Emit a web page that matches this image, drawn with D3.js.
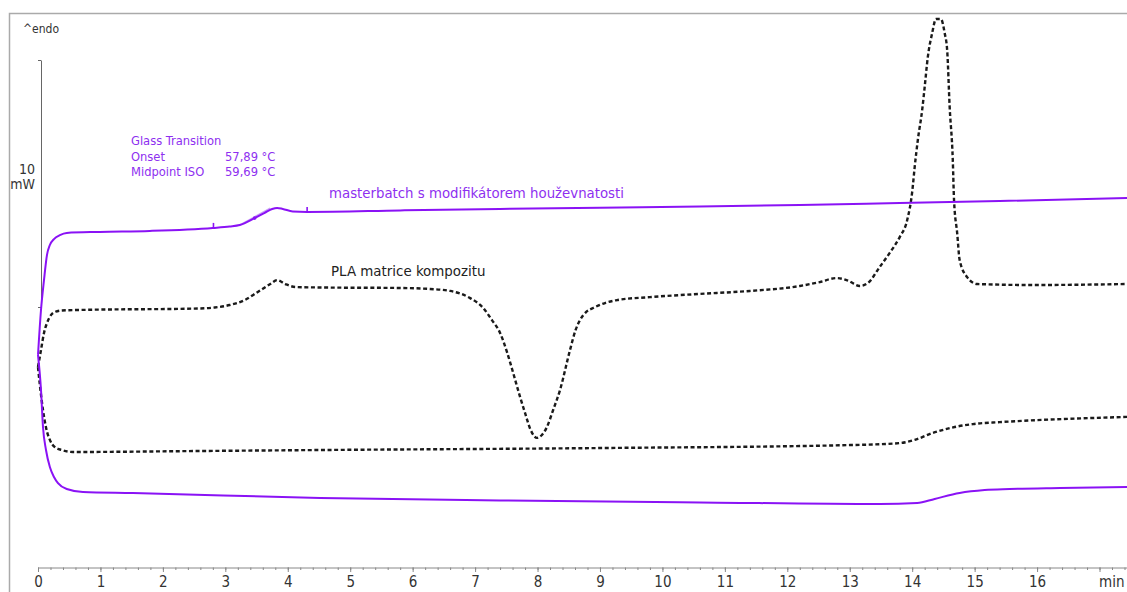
<!DOCTYPE html>
<html>
<head>
<meta charset="utf-8">
<script src="https://cdn.jsdelivr.net/npm/d3@7"></script>
<style>
  html, body { margin: 0; padding: 0; background: #fff; }
  svg { display: block; }
  text { font-family: "DejaVu Sans Condensed", "DejaVu Sans", sans-serif; }
</style>
</head>
<body>
<svg id="chart" width="1127" height="592"></svg>
<script>
// DSC thermogram: heat flow (mW) versus time (min)

// masterbatch with toughness modifier, heating run
const mbHeatT = [0, 0.048, 0.096, 0.144, 0.19, 0.256, 0.35, 0.46, 0.99, 1.79, 2.80, 3.07, 3.23, 3.47, 3.63, 3.75, 3.83, 3.92, 4.08, 4.31, 5.80, 7.40, 9.0, 10.6, 12.2, 13.8, 15.4, 17.44];
const mbHeatV = [-1.94, -0.12, 1.09, 2.11, 2.51, 2.75, 2.91, 3.00, 3.04, 3.08, 3.20, 3.26, 3.32, 3.60, 3.81, 3.97, 4.01, 3.97, 3.87, 3.85, 3.91, 3.97, 4.02, 4.07, 4.13, 4.21, 4.29, 4.41];

// masterbatch with toughness modifier, cooling run
const mbCoolT = [0, 0.048, 0.08, 0.128, 0.19, 0.256, 0.32, 0.46, 0.72, 1.52, 4.52, 7.40, 10.6, 13.48, 14.08, 14.36, 14.76, 15.16, 15.56, 16.37, 17.44];
const mbCoolV = [-1.94, -3.36, -4.86, -5.79, -6.48, -6.88, -7.13, -7.37, -7.49, -7.53, -7.73, -7.83, -7.91, -7.98, -7.94, -7.77, -7.53, -7.41, -7.37, -7.33, -7.29];

// PLA composite matrix, heating run
const plaHeatT = [0, 0.048, 0.096, 0.144, 0.21, 0.27, 0.38, 0.67, 2.59, 2.83, 3.07, 3.31, 3.52, 3.72, 3.83, 3.96, 4.12, 4.52, 5.80, 6.28, 6.60, 6.92, 7.13, 7.27, 7.40, 7.51, 7.61, 7.72, 7.80, 7.89, 7.99, 8.07, 8.15, 8.25, 8.36, 8.52, 8.61, 8.68, 8.78, 8.89, 9.08, 9.27, 9.80, 10.6, 11.4, 12.2, 12.52, 12.79, 12.97, 13.16, 13.29, 13.48, 13.64, 13.80, 13.92, 14.0, 14.04, 14.09, 14.16, 14.20, 14.25, 14.32, 14.38, 14.46, 14.52, 14.56, 14.60, 14.65, 14.67, 14.72, 14.76, 14.88, 15.04, 15.93, 17.44];
const plaHeatV = [-2.43, -1.74, -1.05, -0.65, -0.32, -0.20, -0.14, -0.12, -0.06, -0.02, 0.08, 0.28, 0.61, 0.93, 1.09, 0.93, 0.81, 0.79, 0.77, 0.73, 0.65, 0.36, -0.04, -0.53, -1.05, -1.82, -2.67, -3.64, -4.29, -4.98, -5.30, -5.18, -4.86, -4.17, -3.36, -1.74, -0.93, -0.53, -0.20, -0.04, 0.16, 0.28, 0.40, 0.53, 0.65, 0.85, 1.01, 1.17, 1.07, 0.85, 0.97, 1.62, 2.19, 2.83, 3.52, 4.66, 5.67, 6.76, 7.98, 8.91, 10.12, 11.09, 11.66, 11.66, 11.09, 10.40, 8.10, 5.95, 4.33, 3.00, 1.90, 1.21, 0.93, 0.89, 0.93];

// PLA composite matrix, cooling run
const plaCoolT = [0, 0.03, 0.08, 0.13, 0.19, 0.27, 0.38, 0.56, 2.59, 4.52, 9.0, 13.0, 13.8, 14.04, 14.33, 14.68, 14.97, 15.4, 15.68, 17.44];
const plaCoolV = [-2.43, -3.16, -4.17, -4.90, -5.38, -5.67, -5.79, -5.87, -5.83, -5.79, -5.71, -5.59, -5.51, -5.38, -5.10, -4.86, -4.74, -4.66, -4.62, -4.45];

// glass transition evaluation on the masterbatch heating run
const tgMarkT = [2.81, 4.31];      // evaluation limits
const tgPointT = [3.47];           // midpoint
const tgTangentT = [3.22, 3.72];
const tgTangentV = [3.30, 4.00];
const tgTitle = "Glass Transition";
const tgLabels = ["Onset", "Midpoint ISO"];
const tgValues = ["57,89 °C", "59,69 °C"];

// axis ticks and labels
const majorTicks = d3.range(0, 18);
const minorTicks = d3.range(0, 88).map(i => +(i * 0.2).toFixed(1));
const scaleBarTicks = [0, 10];
const scaleBarLabel = ["10", "mW"];
const timeUnit = "min";
const endoLabel = "^endo";
const seriesNames = ["masterbatch s modifikátorem houževnatosti", "PLA matrice kompozitu"];

const purple = "#8a12f5";
const purpleText = "#8e2ff0";

const svg = d3.select("#chart");

const x = d3.scaleLinear().domain([0, 17.44]).range([38, 1127]);
const y = d3.scaleLinear().domain([0, 10]).range([307, 60]);

// frame
svg.append("path")
  .attr("d", "M9.5,600 V13.5 H1140")
  .attr("fill", "none")
  .attr("stroke", "#aaaaaa")
  .attr("stroke-width", 1.5);

// time axis
const axisY = 567.5;
const xAxis = svg.append("g").attr("transform", `translate(0,${axisY})`);
xAxis.call(d3.axisBottom(x).tickValues(minorTicks).tickSize(2.5).tickSizeOuter(0).tickFormat(""));
xAxis.call(g => g.select(".domain").attr("stroke", "#888"));
xAxis.selectAll(".tick line").attr("stroke", "#888");

const xMajor = svg.append("g").attr("transform", `translate(0,${axisY})`);
xMajor.call(d3.axisBottom(x).tickValues(majorTicks).tickSize(4.5).tickPadding(4)
  .tickFormat(d => d === 17 ? "" : d));
xMajor.select(".domain").remove();
xMajor.selectAll(".tick line").attr("stroke", "#888");
xMajor.selectAll(".tick text")
  .attr("fill", "#333")
  .style("font-size", "15px")
  .style("font-family", "'DejaVu Sans Condensed', 'DejaVu Sans', sans-serif");

svg.append("text")
  .attr("x", 1099).attr("y", 587)
  .attr("fill", "#333")
  .style("font-size", "15px")
  .text(timeUnit);

// heat-flow scale bar
const yBar = svg.append("g").attr("transform", "translate(41,0)");
yBar.call(d3.axisLeft(y).tickValues(scaleBarTicks).tickSize(3).tickSizeOuter(0).tickFormat(""));
yBar.select(".domain").attr("stroke", "#666");
yBar.selectAll(".tick line").attr("stroke", "#666");

svg.append("text").attr("x", 35).attr("y", 174).attr("text-anchor", "end")
  .attr("fill", "#333").style("font-size", "14px").text(scaleBarLabel[0]);
svg.append("text").attr("x", 35).attr("y", 189).attr("text-anchor", "end")
  .attr("fill", "#333").style("font-size", "14px").text(scaleBarLabel[1]);

svg.append("text").attr("x", 23).attr("y", 33)
  .attr("fill", "#333").style("font-size", "12px").text(endoLabel);

// curves
const line = d3.line().x(d => x(d[0])).y(d => y(d[1])).curve(d3.curveMonotoneX);
const pts = (t, v) => t.map((d, i) => [d, v[i]]);

function drawCurve(t, v, style) {
  const p = svg.append("path")
    .datum(pts(t, v))
    .attr("d", line)
    .attr("fill", "none")
    .attr("stroke", style.color)
    .attr("stroke-width", style.width)
    .attr("stroke-linejoin", "round");
  if (style.dash) p.attr("stroke-dasharray", style.dash);
}

const mbStyle = { color: purple, width: 2 };
const plaStyle = { color: "#1a1a1a", width: 2.4, dash: "4,2.6" };

drawCurve(plaCoolT, plaCoolV, plaStyle);
drawCurve(plaHeatT, plaHeatV, plaStyle);
drawCurve(mbCoolT, mbCoolV, mbStyle);

// tangent of the glass transition step
svg.append("line")
  .attr("x1", x(tgTangentT[0])).attr("y1", y(tgTangentV[0]))
  .attr("x2", x(tgTangentT[1])).attr("y2", y(tgTangentV[1]))
  .attr("stroke", "#c79cf7").attr("stroke-width", 1.5);

drawCurve(mbHeatT, mbHeatV, mbStyle);

// evaluation markers on the heating run
const mbInterp = t => {
  const i = d3.bisectLeft(mbHeatT, t);
  const t0 = mbHeatT[i - 1], t1 = mbHeatT[i];
  const f = (t - t0) / (t1 - t0);
  return mbHeatV[i - 1] + f * (mbHeatV[i] - mbHeatV[i - 1]);
};
svg.selectAll("line.tg-mark").data(tgMarkT).join("line")
  .attr("class", "tg-mark")
  .attr("x1", d => x(d)).attr("x2", d => x(d))
  .attr("y1", d => y(mbInterp(d)))
  .attr("y2", d => y(mbInterp(d)) - 5)
  .attr("stroke", purple).attr("stroke-width", 1.6);
svg.selectAll("circle.tg-point").data(tgPointT).join("circle")
  .attr("class", "tg-point")
  .attr("cx", d => x(d)).attr("cy", d => y(mbInterp(d)))
  .attr("r", 1.8).attr("fill", purple);

// annotations
const note = svg.append("g").attr("fill", purpleText).style("font-size", "12.8px");
note.append("text").attr("x", 131).attr("y", 145).text(tgTitle);
tgLabels.forEach((lab, i) => {
  note.append("text").attr("x", 131).attr("y", 161 + i * 14.5).text(lab);
  note.append("text").attr("x", 225).attr("y", 161 + i * 14.5).text(tgValues[i]);
});

svg.append("text").attr("x", 329).attr("y", 198)
  .attr("fill", purpleText).style("font-size", "14.8px").text(seriesNames[0]);
svg.append("text").attr("x", 331).attr("y", 276)
  .attr("fill", "#222").style("font-size", "14.9px").text(seriesNames[1]);
</script>
</body>
</html>
